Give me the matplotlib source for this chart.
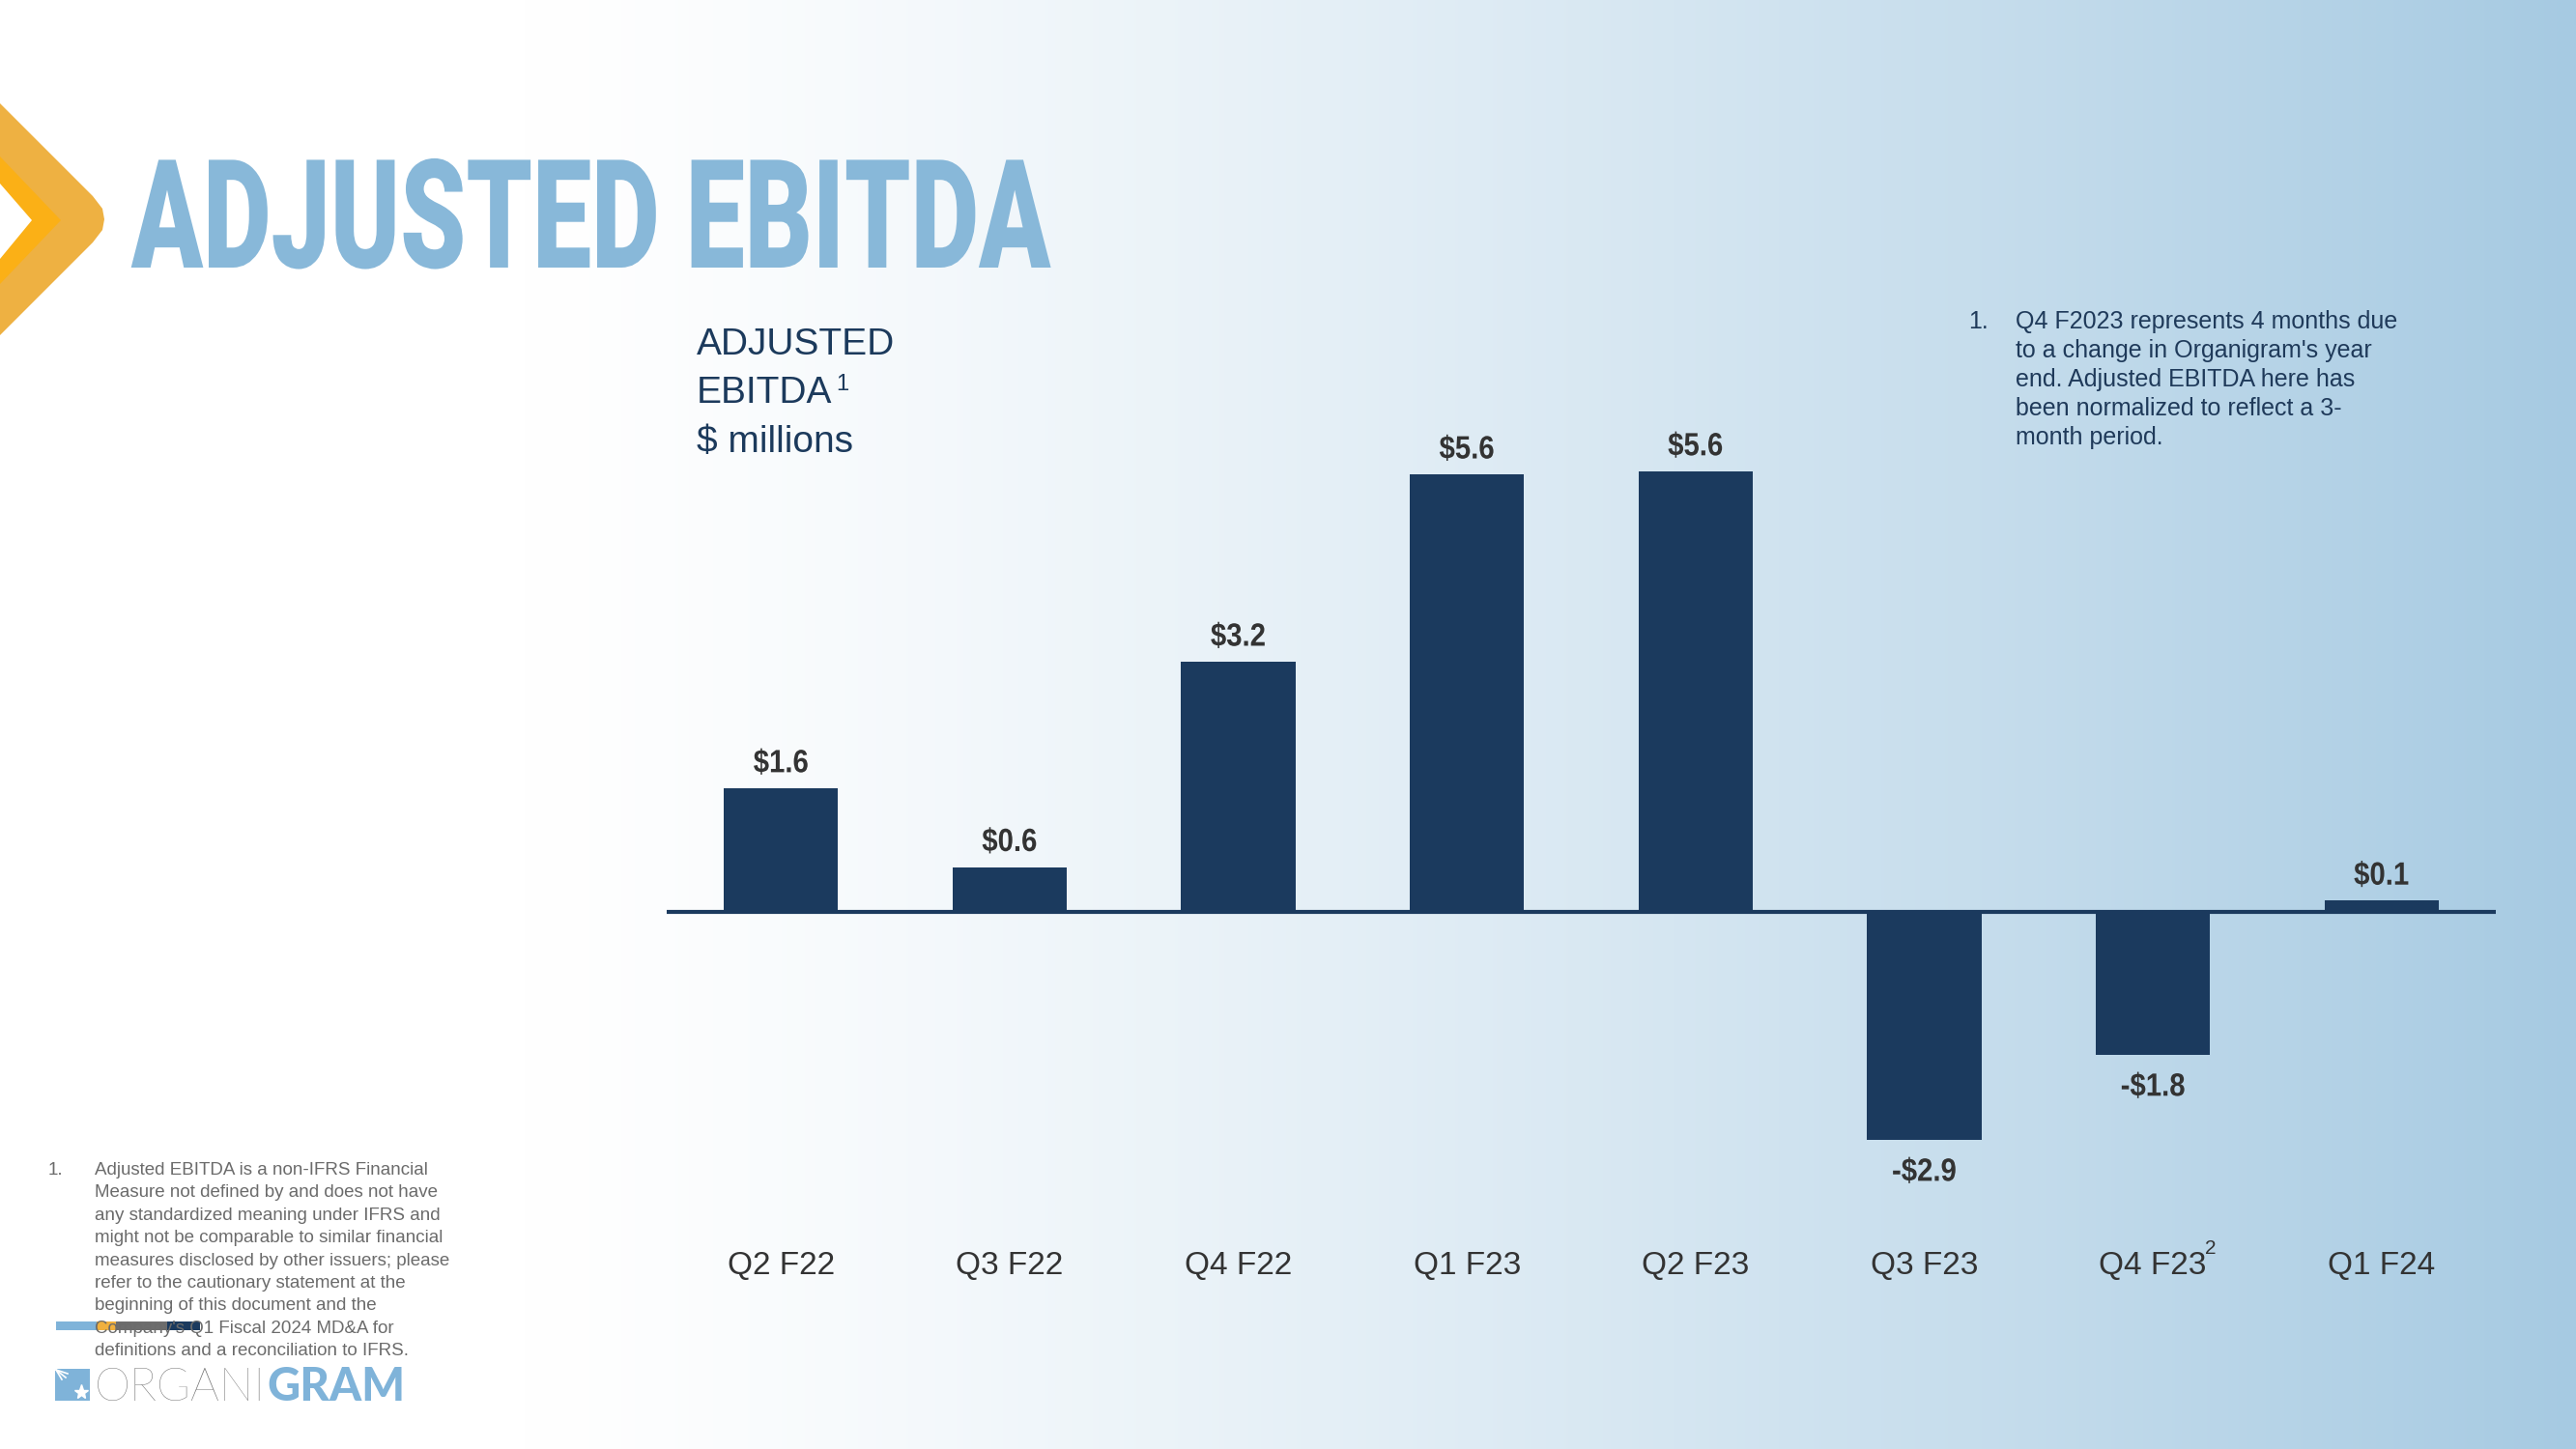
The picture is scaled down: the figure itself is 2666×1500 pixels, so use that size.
import numpy as np
import matplotlib
matplotlib.use("Agg")
import matplotlib.pyplot as plt
from matplotlib import patheffects
from matplotlib.transforms import Affine2D
from matplotlib.patches import Polygon, Rectangle

# ---------------- data ----------------
quarters = ["Q2 F22", "Q3 F22", "Q4 F22", "Q1 F23", "Q2 F23", "Q3 F23", "Q4 F23", "Q1 F24"]
ebitda = [1.58, 0.57, 3.20, 5.60, 5.64, -2.92, -1.83, 0.14]   # $ millions
superscript_quarter = "Q4 F23"
superscript_mark = "2"

title = "ADJUSTED EBITDA"
ylabel_lines = ["ADJUSTED", "EBITDA", "$ millions"]
note_right = ["Q4 F2023 represents 4 months due",
              "to a change in Organigram's year",
              "end. Adjusted EBITDA here has",
              "been normalized to reflect a 3-",
              "month period."]
note_left = ["Adjusted EBITDA is a non-IFRS Financial",
             "Measure not defined by and does not have",
             "any standardized meaning under IFRS and",
             "might not be comparable to similar financial",
             "measures disclosed by other issuers; please",
             "refer to the cautionary statement at the",
             "beginning of this document and the",
             "Company's Q1 Fiscal 2024 MD&A for",
             "definitions and a reconciliation to IFRS."]

NAVY = "#1b3a5e"
DARK = "#333333"
LIGHTBLUE = "#88b8d9"

plt.rcParams["font.family"] = ["Liberation Sans", "DejaVu Sans"]


class Squeeze(patheffects.AbstractPathEffect):
    """Scale glyph outlines horizontally (condensed look) about an anchor."""
    def __init__(self, sx=1.0, anchor="center"):
        super().__init__()
        self.sx = sx
        self.anchor = anchor

    def draw_path(self, renderer, gc, tpath, affine, rgbFace=None):
        ext = tpath.get_extents(affine)
        if self.anchor == "left":
            x0 = ext.x0
        else:
            x0 = 0.5 * (ext.x0 + ext.x1)
        aff = affine + Affine2D().translate(-x0, 0).scale(self.sx, 1.0).translate(x0, 0)
        renderer.draw_path(gc, tpath, aff, rgbFace)


W, H = 2666, 1500
fig = plt.figure(figsize=(W / 100, H / 100), dpi=100)

# ---------------- background layer (pixel coordinates) ----------------
bg = fig.add_axes([0, 0, 1, 1], zorder=0)
xs = np.linspace(0, 1, 600)
f = xs ** 1.3
c0 = np.array([255, 255, 255]) / 255
c1 = np.array([166, 202, 226]) / 255
grad = (c0[None, :] * (1 - f[:, None]) + c1[None, :] * f[:, None])[None, :, :]
bg.imshow(grad, extent=(541, W, H, 0), aspect="auto", interpolation="bilinear", zorder=0)
bg.set_xlim(0, W)
bg.set_ylim(H, 0)
bg.axis("off")

# chevron
bg.add_patch(Polygon([(0, 107), (96, 203), (106, 216), (108, 227), (106, 238), (96, 251), (0, 347)],
                     closed=True, facecolor="#eeb142", edgecolor="none", zorder=1))
bg.add_patch(Polygon([(0, 162), (63, 228), (0, 294)], closed=True,
                     facecolor="#fbb016", edgecolor="none", zorder=2))
bg.add_patch(Polygon([(0, 190), (33, 228), (0, 268)], closed=True,
                     facecolor="white", edgecolor="none", zorder=3))

# title
renderer = fig.canvas.get_renderer()
t = bg.text(136, 277, title, fontsize=113, fontweight="black", family=["Roboto", "DejaVu Sans"],
            color=LIGHTBLUE, ha="left", va="baseline", zorder=5)
tw = t.get_window_extent(renderer).width
t.set_path_effects([Squeeze(952.0 / tw, anchor="left")])

# y-axis caption
yl_color = "#1c3a5c"
bg.text(721, 367, ylabel_lines[0], fontsize=28, color=yl_color, ha="left", va="baseline", zorder=5)
e = bg.text(721, 417, ylabel_lines[1], fontsize=28, color=yl_color, ha="left", va="baseline", zorder=5)
eb = e.get_window_extent(renderer)
bg.text(721 + eb.width + 4, 404, "1", fontsize=17, color=yl_color, ha="left", va="baseline", zorder=5)
bg.text(721, 468, ylabel_lines[2], fontsize=28, color=yl_color, ha="left", va="baseline", zorder=5)

# right footnote
nr_color = "#1f3a5a"
bg.text(2037, 340, "1.", fontsize=18, color=nr_color, ha="left", va="baseline", zorder=5)
for k, line in enumerate(note_right):
    bg.text(2086, 340 + 30 * k, line, fontsize=18, color=nr_color, ha="left", va="baseline", zorder=5)

# left footnote
nl_color = "#6b6b6b"
bg.text(50, 1216, "1.", fontsize=13.5, color=nl_color, ha="left", va="baseline", zorder=5)
# decorative strip behind the line "Company's ..."
for x0, x1, col in [(58, 100, "#7fb3d9"), (100, 120, "#f0b03e"), (120, 173, "#6d6d6d"), (173, 207, NAVY)]:
    bg.add_patch(Rectangle((x0, 1368), x1 - x0, 9, facecolor=col, edgecolor="none", zorder=4))
for k, line in enumerate(note_left):
    bg.text(98, 1216 + 23.4 * k, line, fontsize=13.5, color=nl_color, ha="left", va="baseline", zorder=5)

# logo
bg.add_patch(Rectangle((57, 1417), 36, 33, facecolor="#7fb3d9", edgecolor="none", zorder=4))
for dx, dy in [(10, 8), (12, 4), (6, 10)]:
    bg.plot([58, 58 + dx], [1418, 1418 + dy], color="white", lw=1.2, zorder=5)
bg.plot([84], [1441], marker="*", markersize=11, color="white", zorder=5)
o = bg.text(98, 1450, "ORGANI", fontsize=34, fontweight="light", family=["Lato", "Liberation Sans"],
            color="#6d6d6d", ha="left", va="baseline", zorder=5)
ob = o.get_window_extent(renderer)
g = bg.text(98 + ob.width + 2, 1450, "GRAM", fontsize=34, fontweight="black", family=["Lato", "Liberation Sans"],
            color="#7fb3d9", ha="left", va="baseline", zorder=5)

# ---------------- main chart ----------------
ax = fig.add_axes([690 / W, (H - 1280) / H, (2583 - 690) / W, 900 / H], zorder=2)
ax.patch.set_alpha(0)
x = np.arange(len(quarters))
ax.bar(x, ebitda, width=0.5, color=NAVY, zorder=2)
ax.axhline(0, color=NAVY, lw=3, zorder=3)
ax.set_xlim(-0.5, len(quarters) - 0.5)
ax.set_ylim(-(1280 - 943.7) / 80.8, (943.7 - 380) / 80.8)
for s in ax.spines.values():
    s.set_visible(False)
ax.set_yticks([])
ax.set_xticks(x)
ax.set_xticklabels(quarters, fontsize=24, color=DARK)
ax.tick_params(axis="x", length=0, pad=10.5)

for i, v in enumerate(ebitda):
    lab = f"${v:.1f}" if v >= 0 else f"-${abs(v):.1f}"
    ax.annotate(lab, (i, v), xytext=(0, 12 if v >= 0 else -13.5), textcoords="offset points",
                ha="center", va="baseline" if v >= 0 else "top",
                fontsize=24, fontweight="bold", color=DARK,
                path_effects=[Squeeze(0.88, "center")])

si = quarters.index(superscript_quarter)
ax.annotate(superscript_mark, xy=(si, 0), xycoords=("data", "axes fraction"),
            xytext=(43, -9), textcoords="offset points", fontsize=15, color=DARK,
            ha="center", va="center")

fig.savefig("out.png", dpi=100)
